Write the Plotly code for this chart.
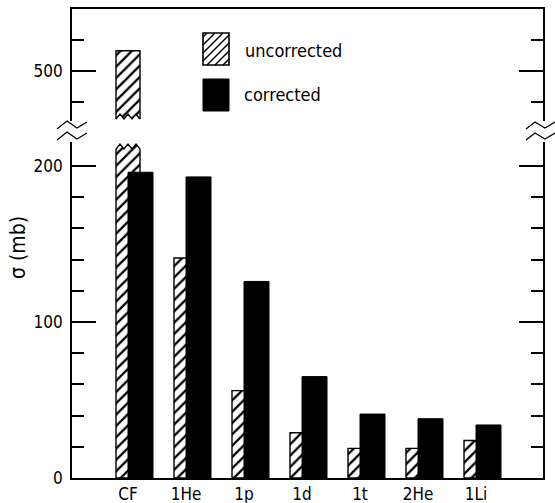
import plotly.graph_objects as go
import numpy as np

# ---------------- data ----------------
categories = ["CF", "1He", "1p", "1d", "1t", "2He", "1Li"]
tick_text = ["CF", "1He", "1p", "1d", "1t", "2He", "1Li"]
uncorrected = [513, 141, 56, 29, 19, 19, 24]
corrected = [196, 193, 126, 65, 41, 38, 34]
lower_ticks = [0, 100, 200]
upper_ticks = [500]

# ---------------- geometry ----------------
W, H = 555, 503
X_LEFT, X_RIGHT = 72, 543          # plot area in pixels
Y_ZERO, Y_LOW_TOP = 478, 142        # lower panel
Y_UP_BOT, Y_TOP = 121, 9            # upper panel
PX_PER_UNIT = 1.56
X0_PX, X_STEP = 128, 58             # first category center, spacing

def px2px(p):
    return p / W

def py2py(p):
    return 1 - p / H

xs = list(range(len(categories)))
x_range = [(X_LEFT - X0_PX) / X_STEP, (X_RIGHT - X0_PX) / X_STEP]
low_range = [0, (Y_ZERO - Y_LOW_TOP) / PX_PER_UNIT]
up_range = [500 - (Y_UP_BOT - 71) / PX_PER_UNIT, 500 + (71 - Y_TOP) / PX_PER_UNIT]

hatch_w = 24 / X_STEP
black_w = 25 / X_STEP

FONT_NUM = "DejaVu Sans Condensed, Liberation Sans Narrow, DejaVu Sans, sans-serif"
FONT_TXT = "DejaVu Sans Condensed, DejaVu Sans, sans-serif"

fig = go.Figure()

pattern = dict(shape="/", fgcolor="black", bgcolor="white", size=8, solidity=0.28)

for xa, ya in [("x", "y"), ("x2", "y2")]:
    fig.add_trace(go.Bar(
        x=xs, y=uncorrected, xaxis=xa, yaxis=ya, name="uncorrected",
        width=hatch_w, offset=-hatch_w / 2,
        marker=dict(color="white", pattern=pattern, line=dict(color="black", width=1.4)),
        showlegend=False, hoverinfo="skip"))
fig.add_trace(go.Bar(
    x=xs, y=corrected, xaxis="x", yaxis="y", name="corrected",
    width=black_w, offset=0,
    marker=dict(color="black", line=dict(color="black", width=1)),
    showlegend=False, hoverinfo="skip"))

axis_common = dict(showline=True, linecolor="black", linewidth=1.6, showgrid=False,
                   zeroline=False, automargin=False, layer="above traces")

fig.update_layout(
    template="none",
    width=W, height=H, margin=dict(l=0, r=0, t=0, b=0, pad=0, autoexpand=False),
    paper_bgcolor="white", plot_bgcolor="white",
    barmode="overlay", showlegend=False,
    xaxis=dict(domain=[px2px(X_LEFT), px2px(X_RIGHT)], range=x_range, anchor="y",
               tickmode="array", tickvals=xs, ticktext=tick_text, ticks="",
               tickfont=dict(family=FONT_NUM, size=17, color="black"),
               **axis_common),
    xaxis2=dict(domain=[px2px(X_LEFT), px2px(X_RIGHT)], range=x_range, anchor="y2",
                matches="x", side="top", showticklabels=False, ticks="",
                **axis_common),
    yaxis=dict(domain=[py2py(Y_ZERO), py2py(Y_LOW_TOP)], range=low_range, anchor="x",
               tickmode="array", tickvals=lower_ticks, ticks="inside", ticklen=24,
               tickwidth=1.5, tickcolor="black", mirror="ticks",
               minor=dict(dtick=20, tick0=0, ticks="inside", ticklen=12,
                          tickwidth=1.5, tickcolor="black"),
               tickfont=dict(family=FONT_NUM, size=17, color="black"),
               ticklabelstandoff=4,
               **axis_common),
    yaxis2=dict(domain=[py2py(Y_UP_BOT), py2py(Y_TOP)], range=up_range, anchor="x2",
                tickmode="array", tickvals=upper_ticks, ticks="inside", ticklen=24,
                tickwidth=1.5, tickcolor="black", mirror="ticks",
                minor=dict(dtick=20, tick0=0, ticks="inside", ticklen=12,
                           tickwidth=1.5, tickcolor="black"),
                tickfont=dict(family=FONT_NUM, size=17, color="black"),
                ticklabelstandoff=4,
                **axis_common),
)

shapes = []

def path_from(points):
    s = "M " + " L ".join(f"{px2px(x):.5f},{py2py(y):.5f}" for x, y in points)
    return s

# torn edges of the broken CF bar
cf_left = X0_PX + xs[0] * X_STEP - 12
cf_right = cf_left + 24
nz = 7
zx = np.linspace(cf_left, cf_right, nz)
up_edge = [(x, 119 if i % 2 == 0 else 114) for i, x in enumerate(zx)]
low_edge = [(x, 149 if i % 2 == 0 else 144) for i, x in enumerate(zx)]
# white masks
mask_up = [(cf_left - 1.5, Y_UP_BOT + 2)] + [(cf_left - 1.5, 119)] + up_edge + \
          [(cf_right + 1.5, 119), (cf_right + 1.5, Y_UP_BOT + 2)]
shapes.append(dict(type="path", xref="paper", yref="paper", path=path_from(mask_up) + " Z",
                   fillcolor="white", line=dict(width=0), layer="above"))
mask_low = [(cf_left - 1.5, Y_LOW_TOP - 2), (cf_left - 1.5, 149)] + low_edge + \
           [(cf_right + 1.5, 149), (cf_right + 1.5, Y_LOW_TOP - 2)]
shapes.append(dict(type="path", xref="paper", yref="paper", path=path_from(mask_low) + " Z",
                   fillcolor="white", line=dict(width=0), layer="above"))
shapes.append(dict(type="path", xref="paper", yref="paper", path=path_from(up_edge),
                   line=dict(color="black", width=1.4), layer="above"))
shapes.append(dict(type="path", xref="paper", yref="paper", path=path_from(low_edge),
                   line=dict(color="black", width=1.4), layer="above"))

# axis break symbols
for dy in (0, 11):
    left = [(57, 129 + dy), (67, 121 + dy), (77, 128 + dy), (87, 122 + dy)]
    right = [(526, 129 + dy), (535, 122 + dy), (545, 128 + dy), (555, 122 + dy)]
    for pts in (left, right):
        shapes.append(dict(type="path", xref="paper", yref="paper", path=path_from(pts),
                           line=dict(color="black", width=1.3), layer="above"))

# legend boxes
bx0, bx1 = 203, 229
hy0, hy1 = 33, 65
cy0, cy1 = 79, 111
shapes.append(dict(type="rect", xref="paper", yref="paper",
                   x0=px2px(bx0), x1=px2px(bx1), y0=py2py(hy1), y1=py2py(hy0),
                   fillcolor="white", line=dict(color="black", width=1.6)))
step = 8
c = bx0 + hy0 + 4
while c < bx1 + hy1:
    xa = max(bx0, c - hy1)
    xb = min(bx1, c - hy0)
    if xb > xa:
        shapes.append(dict(type="line", xref="paper", yref="paper",
                           x0=px2px(xa), y0=py2py(c - xa), x1=px2px(xb), y1=py2py(c - xb),
                           line=dict(color="black", width=1.4)))
    c += step
shapes.append(dict(type="rect", xref="paper", yref="paper",
                   x0=px2px(bx0), x1=px2px(bx1), y0=py2py(cy1), y1=py2py(cy0),
                   fillcolor="black", line=dict(color="black", width=1)))

fig.update_layout(shapes=shapes)

annotations = [
    dict(text="uncorrected", x=px2px(243), y=py2py(51), xref="paper", yref="paper",
         xanchor="left", yanchor="middle", showarrow=False,
         font=dict(family=FONT_TXT, size=18, color="black")),
    dict(text="corrected", x=px2px(242), y=py2py(95), xref="paper", yref="paper",
         xanchor="left", yanchor="middle", showarrow=False,
         font=dict(family=FONT_TXT, size=18, color="black")),
    dict(text="σ (mb)", x=px2px(18), y=py2py(248), xref="paper", yref="paper",
         xanchor="center", yanchor="middle", showarrow=False, textangle=-90,
         font=dict(family=FONT_TXT, size=21, color="black")),
]
fig.update_layout(annotations=annotations)

fig.write_html("out.html")
